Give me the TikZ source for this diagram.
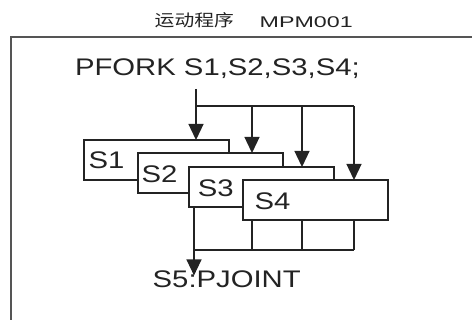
\documentclass[tikz,border=0pt]{standalone}
\usepackage{fontspec}
\setmainfont[FakeStretch=1.22]{Liberation Sans}
\newfontfamily\cjk[FakeStretch=1.2]{Noto Sans CJK SC}
\newfontfamily\titlefont[FakeStretch=1.5]{Liberation Sans}
\usetikzlibrary{arrows.meta}
\definecolor{ink}{RGB}{35,35,35}
\definecolor{frame}{RGB}{85,85,85}
\tikzset{
  ln/.style={draw=ink, line width=1.3pt},
  arr/.style={ln, -{Triangle[width=15pt,length=16pt]}},
  box/.style={ln, fill=white, rectangle, minimum width=145pt, minimum height=40pt, inner sep=0pt, outer sep=0pt, anchor=north west},
  txt/.style={text=ink, inner sep=0pt, outer sep=0pt, anchor=base west, font=\fontsize{24}{28}\selectfont},
}
\begin{document}
\begin{tikzpicture}[x=1pt,y=-1pt]
\useasboundingbox (0,0) rectangle (472,320);
% title
\node[text=ink, inner sep=0pt, anchor=base west, font=\cjk\fontsize{16.5}{18}\selectfont] (t1) at (154.5,27) {运动程序};
\node[text=ink, inner sep=0pt, anchor=base west, font=\titlefont\fontsize{15.5}{18}\selectfont] (t2) at (259.5,27.3) {MPM001};
% frame
\draw[draw=frame, line width=2pt] (472,37) -- (11,37) -- (11,320);
% fork text
\node[txt] (pfork) at (75,76) {PFORK S1,S2,S3,S4;};
% boxes
\node[box] (s1) at (84,140) {};
\node[txt] (l1) at (88.5,169) {S1};
\node[box] (s2) at (138,153) {};
\node[txt] (l2) at (141.5,182.7) {S2};
\node[box] (s3) at (189,167) {};
\node[txt] (l3) at (197.8,196.7) {S3};
\node[box] (s4) at (243,180) {};
\node[txt] (l4) at (254.5,210) {S4};
% fork connectors
\coordinate (a0) at (196,89);
\coordinate (b1) at (196,106);
\coordinate (b2) at (252,106);
\coordinate (b3) at (302,106);
\coordinate (b4) at (354,106);
\draw[ln] (b1) -- (b4);
\draw[arr] (a0) -- (s1.north -| b1);
\draw[arr] (b2) -- (s2.north -| b2);
\draw[arr] (b3) -- (s3.north -| b3);
\draw[arr] (b4) -- (s4.north -| b4);
% join
\node[txt] (s5) at (152.7,287.7) {S5:PJOINT};
\coordinate (j1) at (194,250);
\coordinate (j2) at (252,250);
\coordinate (j3) at (302,250);
\coordinate (j4) at (354,250);
\draw[ln] (s3.south -| j1) -- (j1) -- (j4);
\draw[ln] (s4.south -| j2) -- (j2);
\draw[ln] (s4.south -| j3) -- (j3);
\draw[ln] (s4.south -| j4) -- (j4);
\draw[arr] (j1) -- ([yshift=-4.5pt]s5.north -| j1);
\end{tikzpicture}
\end{document}
